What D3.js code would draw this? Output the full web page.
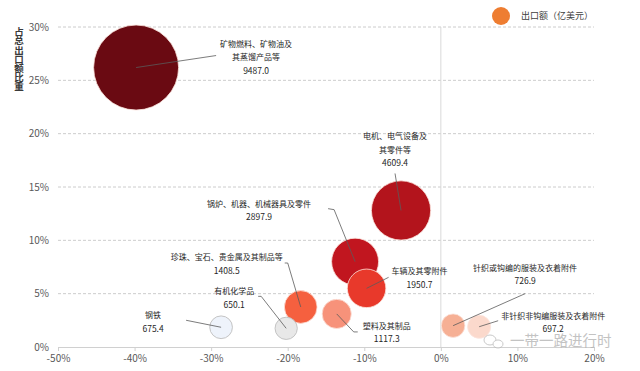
<!DOCTYPE html>
<html>
<head>
<meta charset="utf-8">
<script src="https://cdn.jsdelivr.net/npm/d3@7"></script>
<style>
  body { margin: 0; background: #fff; }
  text { font-family: "Noto Sans CJK SC", "Noto Sans", sans-serif; }
</style>
</head>
<body>
<svg id="bubble"></svg>
<script>
const svg_width = 640;
const svg_height = 371;

// data
var names = [
  ["矿物燃料、矿物油及", "其蒸馏产品等"],
  ["电机、电气设备及", "其零件等"],
  ["锅炉、机器、机械器具及零件"],
  ["车辆及其零附件"],
  ["珍珠、宝石、贵金属及其制品等"],
  ["塑料及其制品"],
  ["有机化学品"],
  ["钢铁"],
  ["针织或钩编的服装及衣着附件"],
  ["非针织非钩编服装及衣着附件"]
];
var growth = [-39.8, -5.2, -11.2, -9.7, -18.3, -13.6, -20.2, -28.7, 1.6, 5.0];   // x, %
var share = [26.2, 12.8, 8.0, 5.5, 3.75, 3.1, 1.75, 1.85, 2.0, 1.9];            // y, %
var exports = [9487.0, 4609.4, 2897.9, 1950.7, 1408.5, 1117.3, 650.1, 675.4, 726.9, 697.2];
var fills = ["#6a0a12", "#b3141c", "#c1161f", "#e8392b", "#f5603f", "#f7927a",
             "#e8e8e8", "#eef3fb", "#f6b095", "#fbd9cc"];

var xTicks = [-50, -40, -30, -20, -10, 0, 10, 20];
var yTicks = [0, 5, 10, 15, 20, 25, 30];
var legendLabel = "出口额（亿美元）";
var yTitle = "占总出口额比重";

// label placement relative to bubble centre: text centre + leader line points
var layout = [
  {dx: 120, dy: -24, line: [[80, -12]]},
  {dx: -6, dy: -74, line: [[-6, -37]]},
  {dx: -96, dy: -58, line: [[-21, -52], [-27, -53]]},
  {dx: 53, dy: -17, line: [[22, -11]]},
  {dx: -74, dy: -50, line: [[-13, -44], [-16, -44]]},
  {dx: 50, dy: 12, line: [[17, 18], [21, 18]]},
  {dx: -52, dy: -37, line: [[-25, -32], [-28, -32]]},
  {dx: -68, dy: -12, line: [[-35, -7]]},
  {dx: 72, dy: -58, line: [[72, -32]]},
  {dx: 74, dy: -11, line: [[19, -6]]}
];

var svg = d3.select("svg#bubble")
    .attr("width", svg_width)
    .attr("height", svg_height);

var x = d3.scaleLinear().domain([-50, 20]).range([58, 594]);
var y = d3.scaleLinear().domain([0, 30]).range([347, 27]);
var r = d3.scaleSqrt().domain([0, 9487]).range([0, 42.5]);

// horizontal dashed grid
svg.append("g")
  .selectAll("line")
  .data(yTicks.filter(d => d > 0))
  .enter()
  .append("line")
  .attr("x1", x(-50))
  .attr("x2", x(20))
  .attr("y1", d => y(d))
  .attr("y2", d => y(d))
  .attr("stroke", "#bfbfbf")
  .attr("stroke-width", 0.8)
  .attr("stroke-dasharray", "3,2");

// vertical zero line
svg.append("line")
  .attr("x1", x(0)).attr("x2", x(0))
  .attr("y1", y(30)).attr("y2", y(0))
  .attr("stroke", "#d9d9d9")
  .attr("stroke-width", 1);

var xAxis = d3.axisBottom(x)
    .tickValues(xTicks)
    .tickSize(4)
    .tickPadding(4)
    .tickFormat(d => d + "%");

var gx = svg.append("g")
  .attr("transform", "translate(0," + y(0) + ")")
  .call(xAxis);
gx.select(".domain").attr("stroke", "#d0d0d0");
gx.selectAll(".tick line").attr("stroke", "#d0d0d0");
gx.selectAll("text").attr("fill", "#595959").style("font-size", "10px");

var yAxis = d3.axisLeft(y)
    .tickValues(yTicks)
    .tickSize(0)
    .tickPadding(9)
    .tickFormat(d => d + "%");

var gy = svg.append("g")
  .attr("transform", "translate(" + x(-50) + ",0)")
  .call(yAxis);
gy.select(".domain").remove();
gy.selectAll("text").attr("fill", "#595959").style("font-size", "10px");

// y title, vertical writing, upright glyphs
svg.append("text")
  .attr("x", 19)
  .attr("y", 27)
  .attr("glyph-orientation-vertical", "0")
  .attr("fill", "#3a3a3a")
  .style("font-size", "9.5px")
  .style("font-weight", "bold")
  .style("letter-spacing", "-0.4px")
  .style("writing-mode", "vertical-rl")
  .style("text-orientation", "upright")
  .text(yTitle);

// bubbles, largest first
var idx = d3.range(exports.length).sort((a, b) => exports[b] - exports[a]);

svg.append("g")
  .selectAll("circle")
  .data(idx)
  .enter()
  .append("circle")
  .attr("cx", i => x(growth[i]))
  .attr("cy", i => y(share[i]))
  .attr("r", i => r(exports[i]))
  .attr("fill", i => fills[i])
  .attr("stroke", i => (i === 6 || i === 7) ? "#c4c4c4" : "#fbe3dc")
  .attr("stroke-width", i => (i === 6 || i === 7) ? 1 : 0.8);

// leader lines
svg.append("g")
  .selectAll("polyline")
  .data(d3.range(exports.length))
  .enter()
  .append("polyline")
  .attr("points", i => {
    let cx = x(growth[i]), cy = y(share[i]);
    let pts = [[cx, cy]].concat(layout[i].line.map(p => [cx + p[0], cy + p[1]]));
    return pts.map(p => p.join(",")).join(" ");
  })
  .attr("fill", "none")
  .attr("stroke", "#5a5a5a")
  .attr("stroke-width", 0.8);

// data labels
var labels = svg.append("g")
  .selectAll("text")
  .data(d3.range(exports.length))
  .enter()
  .append("text")
  .attr("text-anchor", "middle")
  .attr("fill", "#262626")
  .style("font-size", "8px");

labels.each(function(i) {
  let cx = x(growth[i]) + layout[i].dx;
  let cy = y(share[i]) + layout[i].dy;
  let lines = names[i].concat([exports[i].toFixed(1)]);
  d3.select(this).selectAll("tspan")
    .data(lines)
    .enter()
    .append("tspan")
    .attr("x", cx)
    .attr("y", (d, k) => cy + k * 13.5 + 3)
    .style("font-size", (d, k) => k === lines.length - 1 ? "8.5px" : "8px")
    .text(d => d);
});

// legend
svg.append("circle")
  .attr("cx", 501).attr("cy", 16).attr("r", 9)
  .attr("fill", "#ee7d31");
svg.append("text")
  .attr("x", 521).attr("y", 19)
  .attr("fill", "#404040")
  .style("font-size", "9px")
  .text(legendLabel);

// watermark
var wm = svg.append("g").attr("opacity", 0.75);
wm.append("ellipse").attr("cx", 490).attr("cy", 340).attr("rx", 6).attr("ry", 5)
  .attr("fill", "#fff").attr("stroke", "#b8b8b8").attr("stroke-width", 1);
wm.append("ellipse").attr("cx", 498).attr("cy", 344).attr("rx", 5).attr("ry", 4)
  .attr("fill", "#fff").attr("stroke", "#b8b8b8").attr("stroke-width", 1);
wm.append("text")
  .attr("x", 510).attr("y", 346)
  .attr("fill", "#b0b0b0")
  .style("font-size", "14.5px")
  .text("一带一路进行时");
</script>
</body>
</html>
